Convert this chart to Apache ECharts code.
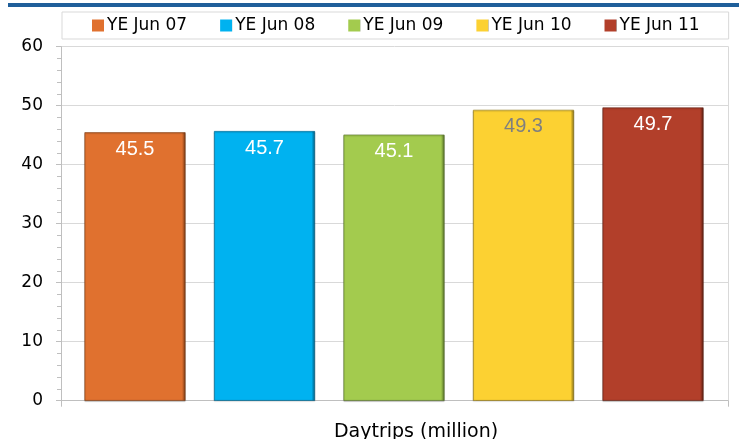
<!DOCTYPE html>
<html>
<head>
<meta charset="utf-8">
<script src="https://cdn.jsdelivr.net/npm/echarts@6/dist/echarts.min.js"></script>
<style>html,body{margin:0;padding:0;background:#fff;}#c{width:739px;height:439px;}</style>
</head>
<body>
<div id="c"></div>
<script>
const categories = ['YE Jun 07', 'YE Jun 08', 'YE Jun 09', 'YE Jun 10', 'YE Jun 11'];
const values = [45.5, 45.7, 45.1, 49.3, 49.7];
const colors = ['#E0712F', '#00B2F0', '#A3CB4E', '#FCD132', '#B23F2A'];
const darkColors = ['#7a3a14', '#005f85', '#55702a', '#8a7216', '#5e1f13'];
const labelColors = ['#ffffff', '#ffffff', '#ffffff', '#7f7f7f', '#ffffff'];
const yTicks = [0, 10, 20, 30, 40, 50, 60];
const axisTitle = 'Daytrips (million)';

const xMin = -0.5714, xMax = 4.579;

const chart = echarts.init(document.getElementById('c'));
const series = categories.map((name, i) => ({
  name: name,
  type: 'bar',
  barWidth: 101,
  barGap: '-100%',
  data: [[i, values[i]]],
  itemStyle: {
    color: new echarts.graphic.LinearGradient(0, 0, 1, 0, [
      {offset: 0, color: colors[i]},
      {offset: 0.965, color: colors[i]},
      {offset: 1, color: darkColors[i]}
    ]),
    borderColor: darkColors[i],
    borderWidth: 0.6,
    shadowColor: 'rgba(0,0,0,0.25)',
    shadowOffsetY: 1,
    shadowBlur: 1
  },
  label: {
    show: true,
    position: 'insideTop',
    distance: 7,
    color: labelColors[i],
    fontFamily: 'Liberation Sans',
    fontSize: 20,
    formatter: (p) => p.value[1].toFixed(1)
  }
}));

chart.setOption({
  animation: false,
  color: colors,
  graphic: [{
    type: 'rect', left: 8, top: 3, shape: {width: 731, height: 4},
    style: {fill: '#1F5F9A'}, z: 10
  }],
  title: {
    text: axisTitle,
    left: 411, top: 418, textAlign: 'center',
    textStyle: {fontFamily: 'DejaVu Sans', fontSize: 19, fontWeight: 'normal', color: '#000'}
  },
  legend: {
    data: categories,
    left: 62, top: 12,
    padding: [5, 29, 5, 30],
    borderColor: '#d9d9d9', borderWidth: 1,
    itemWidth: 12, itemHeight: 12, itemGap: 33,
    icon: 'rect',
    itemStyle: {borderWidth: 0, shadowBlur: 0, shadowOffsetY: 0},
    textStyle: {fontFamily: 'DejaVu Sans', fontSize: 17, color: '#000', padding: [0, 0, 0, -2]}
  },
  grid: {left: 61, right: 11, top: 46.7, bottom: 38.3, containLabel: false},
  xAxis: {
    type: 'value', min: xMin, max: xMax,
    axisLine: {show: true, onZero: false, lineStyle: {color: '#bfbfbf'}},
    axisTick: {show: true, customValues: [xMin, xMax], length: 6, lineStyle: {color: '#bfbfbf'}},
    axisLabel: {show: false},
    splitLine: {show: false}
  },
  yAxis: [{
    type: 'value', min: 0, max: 60, interval: 10, position: 'left',
    axisLine: {show: true, onZero: false, lineStyle: {color: '#bfbfbf'}},
    axisTick: {show: true, length: 5, lineStyle: {color: '#bfbfbf'}},
    minorTick: {show: true, splitNumber: 5, length: 4, lineStyle: {color: '#bfbfbf'}},
    axisLabel: {
      margin: 18, color: '#000', fontFamily: 'DejaVu Sans', fontSize: 17,
      customValues: yTicks
    },
    splitLine: {show: true, lineStyle: {color: '#d9d9d9'}}
  }, {
    type: 'value', min: 0, max: 60, position: 'right',
    axisLine: {show: true, onZero: false, lineStyle: {color: '#d9d9d9'}},
    axisTick: {show: false}, axisLabel: {show: false}, splitLine: {show: false}
  }],
  series: series
});
</script>
</body>
</html>
